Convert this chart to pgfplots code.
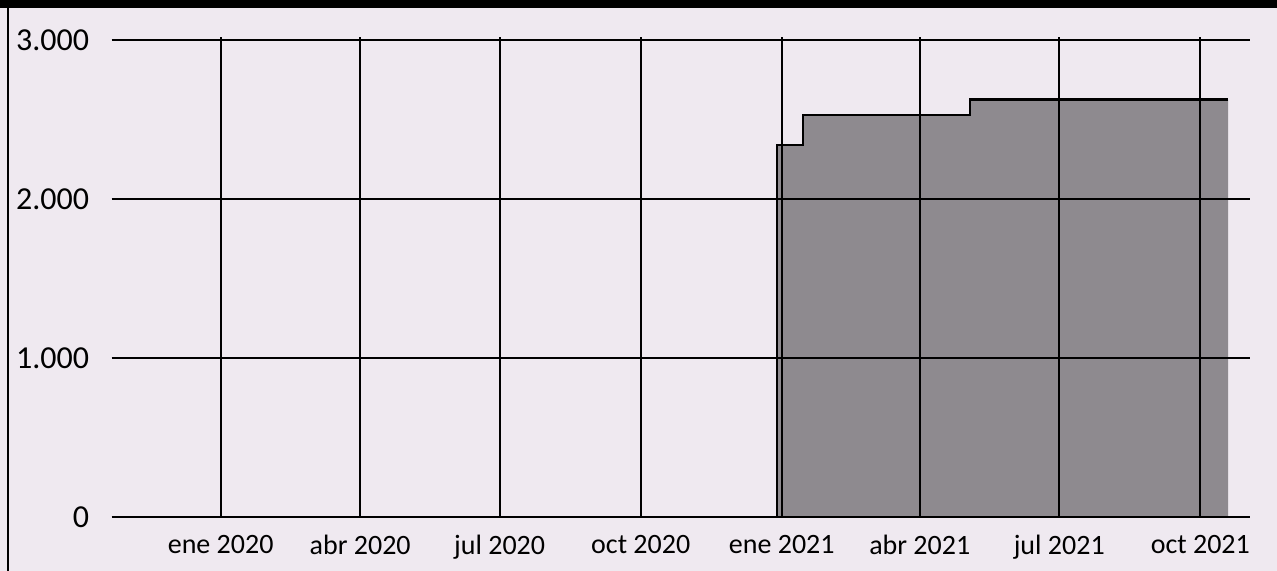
\documentclass[border=0pt]{standalone}
\usepackage{pgfplots}
\pgfplotsset{compat=1.18}
\usepackage{fontspec}
\setmainfont{Carlito}
\definecolor{bgc}{RGB}{239,233,240}
\definecolor{areac}{RGB}{142,138,143}
\begin{document}
\begin{tikzpicture}
\fill[bgc] (0,0) rectangle (638.5bp,285.5bp);
\path[use as bounding box] (0,0) rectangle (638.5bp,285.5bp);
\begin{axis}[
  at={(55.75bp,27bp)}, anchor=south west,
  scale only axis, width=569bp, height=240bp,
  xmin=-71.2, xmax=671.1, ymin=0, ymax=3019,
  axis line style={draw=none},
  axis on top,
  grid=major,
  major grid style={black, line width=1bp},
  xtick={0,91,182,274,366,456,547,639},
  xticklabels={ene 2020,abr 2020,jul 2020,oct 2020,ene 2021,abr 2021,jul 2021,oct 2021},
  ytick={0,1000,2000,3000},
  yticklabels={0,{1.000},{2.000},{3.000}},
  major tick length=0pt,
  tick style={draw=none},
  tick label style={inner sep=0pt},
  yticklabel style={font=\fontsize{16bp}{18bp}\selectfont, anchor=east, xshift=-11bp},
  xticklabel style={font=\fontsize{14bp}{16bp}\selectfont, anchor=north, yshift=-9bp},
  /pgf/number format/assume math mode=true,
  clip=false,
]
\addplot[const plot, fill=areac, draw=none] coordinates {
  (-58,0) (362.7,2340) (379.9,2528) (488.8,2625) (657.1,2625)
} \closedcycle;
\addplot[const plot, black, line width=1.2bp] coordinates {
  (-58,0) (362.7,2340) (379.9,2528) (488.8,2625) (657.1,2625)
};
\end{axis}
\fill[black] (0,281.5bp) rectangle (638.5bp,285.5bp);
\draw[black, line width=1bp] (3.75bp,0) -- (3.75bp,282bp);
\end{tikzpicture}
\end{document}
